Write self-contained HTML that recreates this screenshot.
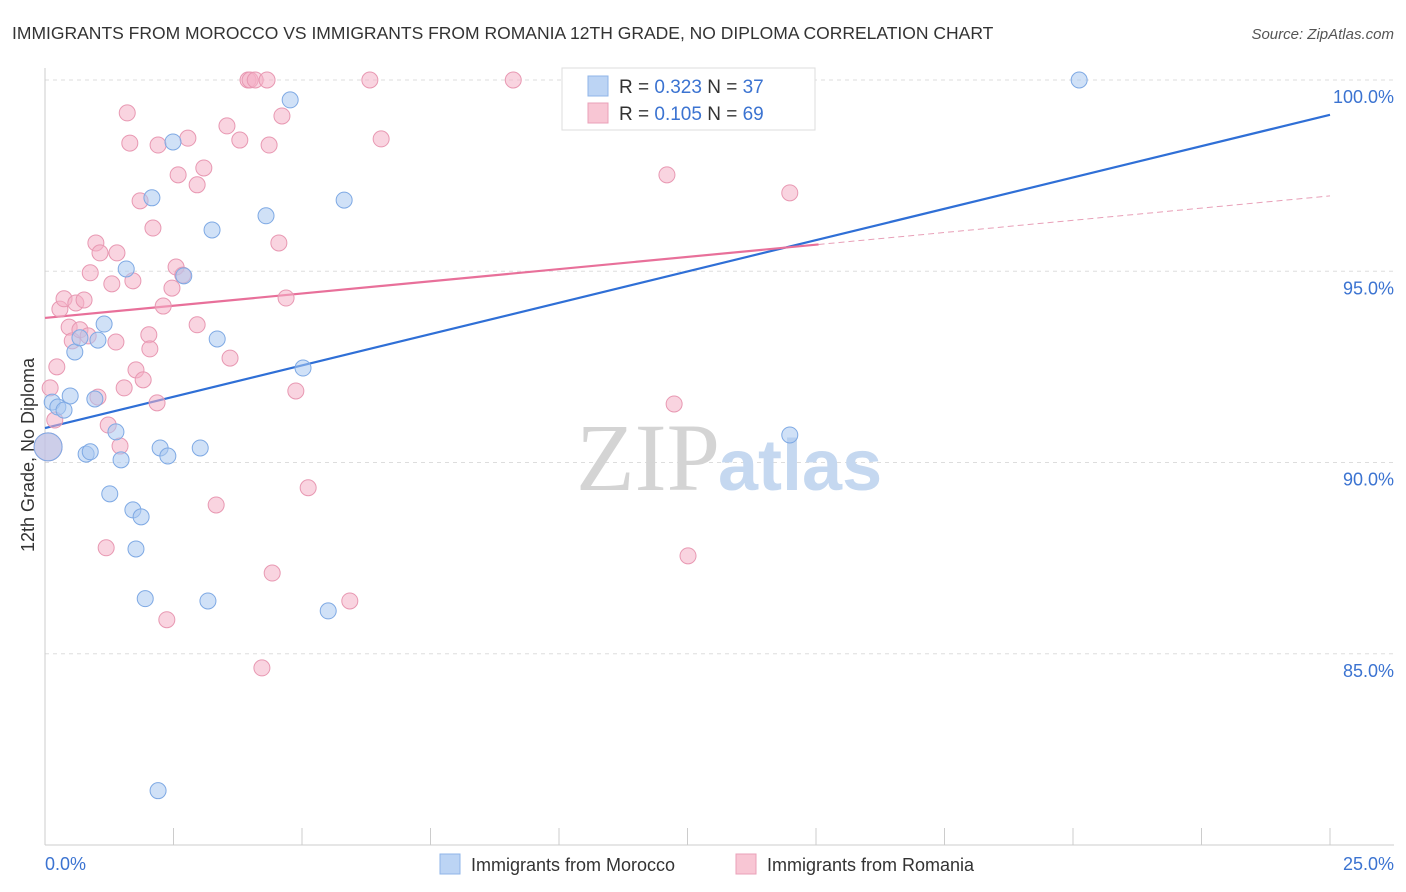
<!DOCTYPE html>
<html><head><meta charset="utf-8"><style>
body{margin:0;background:#fff;font-family:"Liberation Sans",sans-serif}
svg{display:block}
</style></head><body>
<svg id="chart" width="1406" height="892">
<text x="12" y="39" font-size="17.5" fill="#333">IMMIGRANTS FROM MOROCCO VS IMMIGRANTS FROM ROMANIA 12TH GRADE, NO DIPLOMA CORRELATION CHART</text>
<text x="1394" y="39" font-size="15" fill="#555" font-style="italic" text-anchor="end">Source: ZipAtlas.com</text>
<g id="grid"></g>
<text x="720" y="490" font-size="96" fill="#d4d4d4" text-anchor="end" font-family="Liberation Serif,serif">ZIP</text>
<text x="718" y="490" font-size="72" fill="#c5d8f0" font-weight="bold">atlas</text>
<text transform="translate(34,455) rotate(-90)" font-size="18" fill="#333" text-anchor="middle">12th Grade, No Diploma</text>
<g id="lines"></g>
<g id="points"></g>
<g>
<rect x="562" y="68" width="253" height="62" fill="#fff" stroke="#ddd"/>
<rect x="588" y="76" width="20" height="20" fill="#bcd4f4" stroke="#8fb5e8"/>
<rect x="588" y="103" width="20" height="20" fill="#f8c6d4" stroke="#eaa0b8"/>
<text x="619" y="93" font-size="19" fill="#333">R = <tspan fill="#3b73d1">0.323</tspan>   N = <tspan fill="#3b73d1">37</tspan></text>
<text x="619" y="120" font-size="19" fill="#333">R = <tspan fill="#3b73d1">0.105</tspan>   N = <tspan fill="#3b73d1">69</tspan></text>
</g>
<g>
<rect x="440" y="854" width="20" height="20" fill="#bcd4f4" stroke="#8fb5e8"/>
<text x="471" y="871" font-size="18" fill="#333">Immigrants from Morocco</text>
<rect x="736" y="854" width="20" height="20" fill="#f8c6d4" stroke="#eaa0b8"/>
<text x="767" y="871" font-size="18" fill="#333">Immigrants from Romania</text>
</g>
</svg>
<script>
const yTicks=[100,95,90,85];
const yTickLabels=["100.0%","95.0%","90.0%","85.0%"];
const xTickCount=10;
const xMin=0,xMax=25,yMin=80,yMax=100;
const moroccoX=[0.06,0.14,0.25,0.37,0.49,0.58,0.68,0.80,0.88,0.97,1.03,1.15,1.26,1.38,1.48,1.58,1.71,1.77,1.87,1.95,2.08,2.20,2.24,2.39,2.49,2.70,3.02,3.17,3.25,3.35,4.30,4.77,5.02,5.51,5.82,14.49,20.12];
const moroccoY=[90.41,91.58,91.45,91.37,91.74,92.89,93.26,90.22,90.28,91.66,93.20,93.62,89.18,90.80,90.07,95.06,88.76,87.74,88.58,86.44,96.92,81.42,90.38,90.17,98.38,94.88,90.38,86.38,96.08,93.23,96.45,99.48,92.47,86.12,96.86,90.72,100.0];
const romaniaX=[0.06,0.10,0.19,0.23,0.29,0.37,0.47,0.53,0.60,0.68,0.76,0.84,0.88,0.99,1.03,1.07,1.19,1.23,1.30,1.38,1.40,1.46,1.54,1.60,1.65,1.71,1.77,1.85,1.91,2.02,2.04,2.10,2.18,2.20,2.30,2.37,2.47,2.55,2.59,2.68,2.78,2.96,2.96,3.09,3.33,3.54,3.60,3.79,3.95,3.99,4.09,4.22,4.32,4.36,4.42,4.55,4.61,4.69,4.88,5.12,5.93,6.32,6.54,9.11,12.10,12.24,12.51,14.49];
const romaniaY=[90.41,91.95,91.11,92.50,94.01,94.28,93.54,93.18,94.17,93.47,94.25,93.31,94.96,95.74,91.71,95.48,87.77,90.98,94.67,93.15,95.48,90.43,91.95,99.14,98.35,94.75,92.42,96.84,92.16,93.34,92.97,96.13,91.56,98.30,94.09,85.89,94.56,95.11,97.52,94.90,98.48,93.60,97.26,97.70,88.89,98.80,92.73,98.43,100,100,100,84.63,100,98.30,87.11,95.74,99.06,94.30,91.87,89.34,86.38,100,98.46,100,97.52,91.53,87.56,97.05];
const moroccoTrend=[90.90,99.09];
const romaniaTrend=[93.78,96.97];
const romaniaSolidEnd=15.05;
const X=v=>45+(v-xMin)/(xMax-xMin)*1285;
const Y=v=>845-(v-yMin)/(yMax-yMin)*765;
const NS="http://www.w3.org/2000/svg";
function mk(tag,attrs,parent){const e=document.createElementNS(NS,tag);for(const k in attrs)e.setAttribute(k,attrs[k]);parent.appendChild(e);return e;}
const grid=document.getElementById('grid');
yTicks.forEach((t,i)=>{
 const l=mk('line',{x1:45,x2:1394,y1:Y(t),y2:Y(t),stroke:'#ddd','stroke-dasharray':'4,4'},grid);
 
 
 const tx=mk('text',{x:1394,y:Y(t)+23,'font-size':18,fill:'#3b73d1','text-anchor':'end'},grid);
 tx.textContent=yTickLabels[i];
 
 
});
const ax=mk('line',{x1:45,x2:45,y1:68,y2:845,stroke:'#ccc'},grid);


const bx=mk('line',{x1:45,x2:1394,y1:845,y2:845,stroke:'#ccc'},grid);


for(let i=0;i<=xTickCount;i++){
 const v=xMin+(xMax-xMin)*i/xTickCount;
 const t=mk('line',{x1:X(v),x2:X(v),y1:828,y2:845,stroke:'#ccc'},grid);
 
 
}
const xl0=mk('text',{x:45,y:870,'font-size':18,fill:'#3b73d1'},grid);xl0.textContent='0.0%';


const xl1=mk('text',{x:1394,y:870,'font-size':18,fill:'#3b73d1','text-anchor':'end'},grid);xl1.textContent='25.0%';


const pts=document.getElementById('points');
function dots(xs,ys,fill,stroke,name){
 xs.forEach((x,i)=>{
  const big=(i===0);
  const c=mk('circle',{cx:X(x),cy:Y(ys[i]),r:big?14:8,fill:fill,'fill-opacity':0.55,stroke:stroke,'stroke-width':1},pts);
  
  
 });
}
dots(romaniaX,romaniaY,'#f4b0c6','#e898b2','point-romania');
dots(moroccoX,moroccoY,'#a9c8f0','#7ea9e4','point-morocco');
const lines=document.getElementById('lines');
const bl=mk('line',{x1:X(xMin),y1:Y(moroccoTrend[0]),x2:X(xMax),y2:Y(moroccoTrend[1]),stroke:'#2f6fd6','stroke-width':2.2},lines);


const py=x=>romaniaTrend[0]+(romaniaTrend[1]-romaniaTrend[0])*(x-xMin)/(xMax-xMin);
const pl=mk('line',{x1:X(xMin),y1:Y(romaniaTrend[0]),x2:X(romaniaSolidEnd),y2:Y(py(romaniaSolidEnd)),stroke:'#e8709a','stroke-width':2.2},lines);


const pd=mk('line',{x1:X(romaniaSolidEnd),y1:Y(py(romaniaSolidEnd)),x2:X(xMax),y2:Y(romaniaTrend[1]),stroke:'#e8a0b8','stroke-width':1,'stroke-dasharray':'6,4'},lines);


</script>
</body></html>
